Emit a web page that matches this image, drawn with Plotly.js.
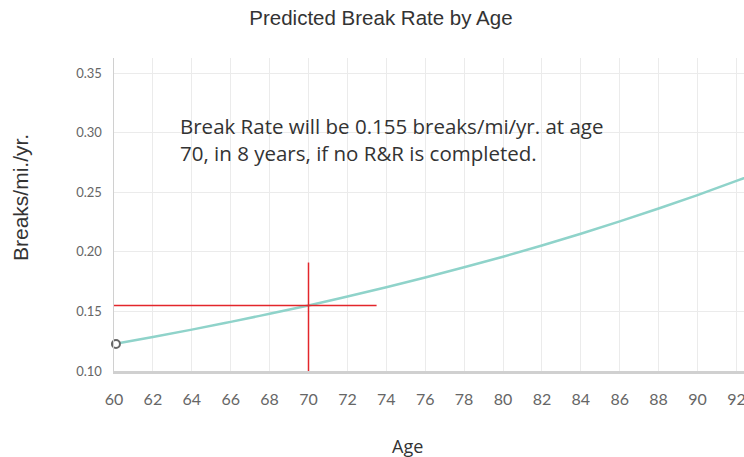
<!DOCTYPE html>
<html>
<head>
<meta charset="utf-8">
<script src="https://cdn.plot.ly/plotly-3.0.1.min.js"></script>
<style>html,body{margin:0;padding:0;background:#fff;}#chart{width:744px;height:457px;}</style>
</head>
<body>
<div id="chart"></div>
<script>
// Data
const ages = [60, 62, 64, 66, 68, 70, 72, 74, 76, 78, 80, 82, 84, 86, 88, 90, 92, 93];
const breakRate = [0.1227, 0.1286, 0.1347, 0.1412, 0.1480, 0.155, 0.1625, 0.1703, 0.1784, 0.1870, 0.1959, 0.2053, 0.2152, 0.2255, 0.2363, 0.2476, 0.2595, 0.2656];
const startPoint = {age: [60.1], rate: [0.1227]};
const hLineAge = [60, 73.5];
const hLineRate = [0.155, 0.155];
const vLineAge = [70, 70];
const vLineRate = [0.10, 0.191];
const xTicks = [60, 62, 64, 66, 68, 70, 72, 74, 76, 78, 80, 82, 84, 86, 88, 90, 92];
const yTicks = [0.10, 0.15, 0.20, 0.25, 0.30, 0.35];
const yTickLabels = ['0.10', '0.15', '0.20', '0.25', '0.30', '0.35'];
const noteLines = ['Break Rate will be 0.155 breaks/mi/yr. at age', '70, in 8 years, if no R&amp;R is completed.'];

const traces = [
  {x: ages, y: breakRate, mode: 'lines', line: {color: '#8fd3ca', width: 2.5, shape: 'spline'}, hoverinfo: 'skip'},
  {x: hLineAge, y: hLineRate, mode: 'lines', line: {color: '#e3262b', width: 1.5}, hoverinfo: 'skip'},
  {x: vLineAge, y: vLineRate, mode: 'lines', line: {color: '#e3262b', width: 1.5}, hoverinfo: 'skip'},
  {x: startPoint.age, y: startPoint.rate, mode: 'markers', cliponaxis: false, marker: {symbol: 'circle', size: 8, color: '#fff', line: {width: 2, color: '#666'}}, hoverinfo: 'skip'}
];

const layout = {
  width: 744, height: 457,
  margin: {l: 114, r: 0, t: 58, b: 86},
  paper_bgcolor: '#fff', plot_bgcolor: '#fff',
  showlegend: false,
  title: {text: 'Predicted Break Rate by Age', font: {family: 'Liberation Sans', size: 20.5, color: '#333'}, x: 0.512, xanchor: 'center', y: 0.96, yanchor: 'middle'},
  xaxis: {
    range: [60, 92.39], tickvals: xTicks, ticktext: xTicks.map(String),
    showgrid: true, gridcolor: '#ebebeb', gridwidth: 1,
    showline: true, linecolor: '#d0d0d0', linewidth: 3,
    zeroline: false, ticks: '', ticklabelstandoff: 12, ticklabeloverflow: 'allow',
    tickfont: {family: 'Lato', size: 16, color: '#666'}
  },
  yaxis: {
    range: [0.10, 0.3626], tickvals: yTicks, ticktext: yTickLabels,
    showgrid: true, gridcolor: '#ebebeb', gridwidth: 1,
    showline: true, linecolor: '#d0d0d0', linewidth: 1.5,
    zeroline: false, ticks: '', ticklabelstandoff: 8,
    tickfont: {family: 'Lato', size: 13, color: '#666'}
  },
  annotations: [
    {xref: 'paper', yref: 'paper', x: (178 - 114) / 630, y: (371 - 139) / 313, xanchor: 'left', yanchor: 'middle', align: 'left',
     text: noteLines.join('<br>'), showarrow: false,
     font: {family: 'Open Sans', size: 20.5, color: '#333'}},
    {xref: 'paper', yref: 'paper', x: (407 - 114) / 630, y: -(446 - 371) / 313, xanchor: 'center', yanchor: 'middle',
     text: 'Age', showarrow: false, font: {family: 'Open Sans', size: 18, color: '#333'}},
    {xref: 'paper', yref: 'paper', x: -(114 - 20) / 630, y: (371 - 198) / 313, xanchor: 'center', yanchor: 'middle', textangle: -90,
     text: 'Breaks/mi./yr.', showarrow: false, font: {family: 'Liberation Sans', size: 21, color: '#333'}}
  ]
};

Plotly.newPlot('chart', traces, layout, {displayModeBar: false, staticPlot: true});
</script>
</body>
</html>
